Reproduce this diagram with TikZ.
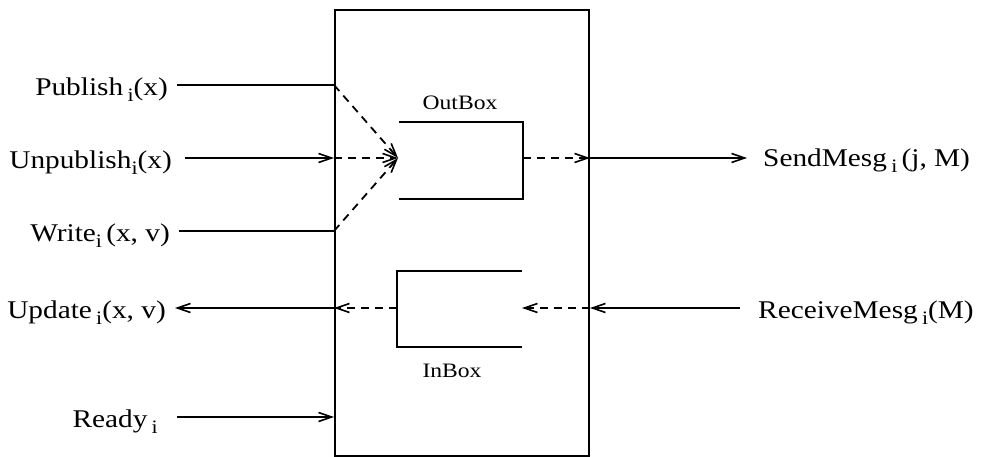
\documentclass[tikz,border=0pt]{standalone}
\usepackage{fontspec}
\setmainfont{Liberation Serif}[FakeStretch=1.15]
\usetikzlibrary{arrows.meta}
\newcommand\sbi[1]{\raisebox{-6pt}{\fontsize{19}{19}\selectfont #1}}
\begin{document}
\begin{tikzpicture}[x=1pt,y=-1pt,
  conn/.style={line width=1.8pt},
  dconn/.style={line width=1.8pt, dash pattern=on 8pt off 6pt},
  arr/.style={-{Straight Barb[length=13pt,width=9pt,line width=1.6pt]}},
  boxline/.style={line width=2pt},
  lab/.style={inner sep=0pt, font=\fontsize{25.5}{26}\selectfont},
  small/.style={inner sep=0pt, font=\fontsize{20.5}{21}\selectfont}]
\useasboundingbox (0,0) rectangle (987,457);
% main box
\node (box) [draw, boxline, minimum width=254pt, minimum height=446pt, inner sep=0pt, anchor=north west] at (334,9) {};
% coordinates
\coordinate (pubE) at (177,85);
\coordinate (unpE) at (185,158);
\coordinate (wriE) at (179,231);
\coordinate (updE) at (175,308);
\coordinate (redE) at (177,417);
\coordinate (conv) at (398,158);
\coordinate (sndE) at (747,158);
\coordinate (rcvE) at (740,308);
\coordinate (ibTip) at (522,308);
\coordinate (pubB) at (box.west |- pubE);
\coordinate (unpB) at (box.west |- unpE);
\coordinate (wriB) at (box.west |- wriE);
\coordinate (updB) at (box.west |- updE);
\coordinate (redB) at (box.west |- redE);
\coordinate (sndB) at (box.east |- sndE);
\coordinate (rcvB) at (box.east |- rcvE);
% OutBox and InBox
\coordinate (ob1) at (399,122);
\coordinate (ob2) at (523,122);
\coordinate (ob3) at (523,199);
\coordinate (ob4) at (399,199);
\coordinate (obR) at (523,158);
\coordinate (ib1) at (522,271);
\coordinate (ib2) at (397,271);
\coordinate (ib3) at (397,347);
\coordinate (ib4) at (522,347);
\coordinate (ibL) at (397,308);
\draw[boxline] (ob1) -- (ob2) -- (ob3) -- (ob4);
\draw[boxline] (ib1) -- (ib2) -- (ib3) -- (ib4);
\node (outlab) [small, anchor=base] at (460,110) {OutBox};
\node (inlab) [small, anchor=base] at (452,377) {InBox};
% labels
\node (pub) [lab, anchor=base east] at (168,96) {Publish\,\sbi{i}(x)};
\node (unp) [lab, anchor=base east] at (172,168) {Unpublish\sbi{i}(x)};
\node (wri) [lab, anchor=base east] at (170,241) {Write\sbi{i}\,(x, v)};
\node (upd) [lab, anchor=base east] at (166,318) {Update\,\sbi{i}(x, v)};
\node (red) [lab, anchor=base east] at (158,427) {Ready\,\sbi{i}};
\node (snd) [lab, anchor=base west] at (763,167) {SendMesg\,\sbi{i}\,(j, M)};
\node (rcv) [lab, anchor=base west] at (758,318) {ReceiveMesg\,\sbi{i}(M)};
% connectors
\draw[conn] (pubE) -- (pubB);
\draw[conn,arr] (unpE) -- (unpB);
\draw[conn] (wriE) -- (wriB);
\draw[dconn,arr] (pubB) -- (conv);
\draw[dconn,arr] (unpB) -- (conv);
\draw[dconn,arr] (wriB) -- (conv);
\draw[dconn,arr] (obR) -- (sndB);
\draw[conn,arr] (sndB) -- (sndE);
\draw[conn,arr] (rcvE) -- (rcvB);
\draw[dconn,arr] (rcvB) -- (ibTip);
\draw[dconn,arr] (ibL) -- (updB);
\draw[conn,arr] (updB) -- (updE);
\draw[conn,arr] (redE) -- (redB);
\end{tikzpicture}
\end{document}
